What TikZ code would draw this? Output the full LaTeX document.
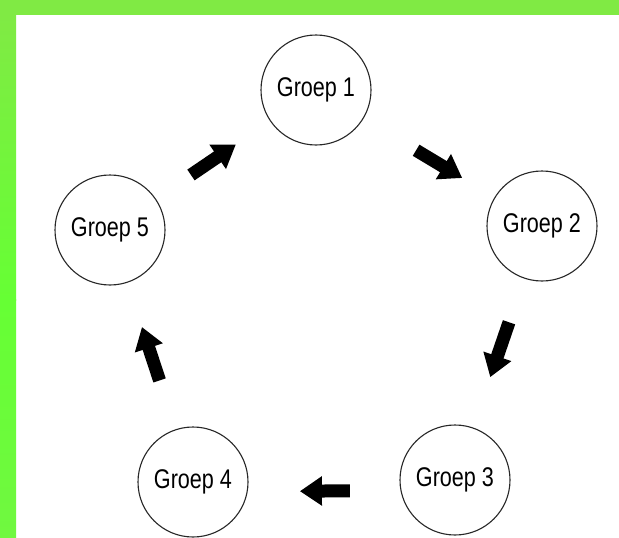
\documentclass[tikz,border=0pt]{standalone}
\usepackage{fontspec}
\setmainfont{Liberation Sans}[FakeStretch=0.8]
\usetikzlibrary{arrows.meta,calc}
\definecolor{bandgreen}{RGB}{128,234,68}
\definecolor{bandgreenb}{RGB}{102,255,52}
\definecolor{bandgreenc}{RGB}{112,248,64}
\definecolor{ringcol}{RGB}{40,40,40}
\tikzset{
  groep/.style={circle, draw=ringcol, line width=1.1pt, fill=white,
    minimum size=110pt, inner sep=0pt,
    font=\fontsize{27}{32}\selectfont},
  blockarrow/.style={line width=13pt, draw=black,
    -{Triangle[length=22pt,width=28pt]}}
}
\begin{document}
\begin{tikzpicture}[x=1pt,y=-1pt]
\useasboundingbox (0,0) rectangle (619,538);
\fill[white] (0,0) rectangle (619,538);
\fill[bandgreen] (0,0) rectangle (619,14.5);
\shade[top color=bandgreen, bottom color=bandgreenb] (0,14) rectangle (16,300);
\shade[top color=bandgreenb, bottom color=bandgreenc] (0,299.5) rectangle (16,538);

\node[groep] (g1) at (316,90) {Groep 1};
\node[groep] (g2) at (542,226) {Groep 2};
\node[groep] (g3) at (455,480) {Groep 3};
\node[groep] (g4) at (193,482) {Groep 4};
\node[groep] (g5) at (110,230) {Groep 5};

\draw[blockarrow] ($(g1)!0.443!(g2)$) -- ($(g1)!0.647!(g2)$);
\draw[blockarrow] ($(g2)!0.379!(g3)$) -- ($(g2)!0.595!(g3)$);
\draw[blockarrow] ($(g3)!0.401!(g4)+(0,10)$) -- ($(g3)!0.592!(g4)+(0,10)$);
\draw[blockarrow] ($(g4)!0.403!(g5)$) -- ($(g4)!0.615!(g5)$);
\draw[blockarrow] ($(g5)!0.393!(g1)$) -- ($(g5)!0.611!(g1)$);
\end{tikzpicture}
\end{document}
